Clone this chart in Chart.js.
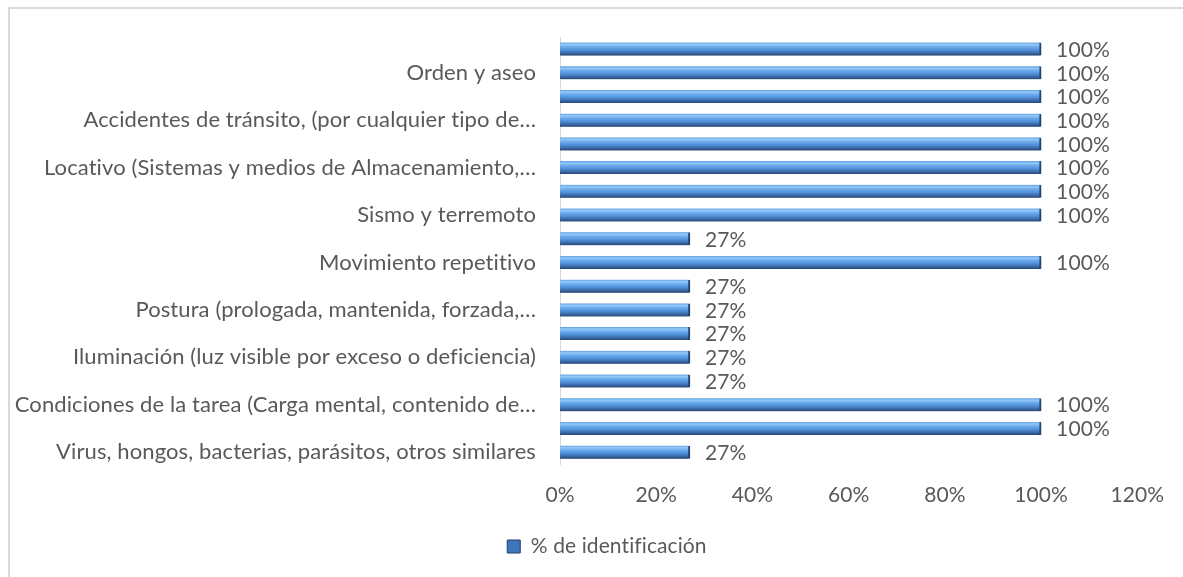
<!DOCTYPE html>
<html>
<head>
<meta charset="utf-8">
<script src="https://cdn.jsdelivr.net/npm/chart.js@4"></script>
<style>
    body { margin: 0; overflow: hidden; background: #fff; width: 1183px; height: 577px; position: relative; }
    #frame { position: absolute; left: 8px; top: 7px; width: 1300px; height: 700px; border: 2px solid #d9d9d9; }
    #riskChart { position: absolute; left: 0; top: 0; }
</style>
</head>
<body>
<div id="frame"></div>
<canvas id="riskChart" width="1183" height="577"></canvas>
<script>
// categories in the sheet's order (first one sits at the bottom)
const categories = [
    'Virus, hongos, bacterias, parásitos, otros similares',
    '',
    'Condiciones de la tarea (Carga mental, contenido de…',
    '',
    'Iluminación (luz visible por exceso o deficiencia)',
    '',
    'Postura (prologada, mantenida, forzada,…',
    '',
    'Movimiento repetitivo',
    '',
    'Sismo y terremoto',
    '',
    'Locativo (Sistemas y medios de Almacenamiento,…',
    '',
    'Accidentes de tránsito, (por cualquier tipo de…',
    '',
    'Orden y aseo',
    ''
];
const identificacion = [27, 100, 100, 27, 27, 27, 27, 27, 100, 27, 100, 100, 100, 100, 100, 100, 100, 100];
const xTicks = [0, 20, 40, 60, 80, 100, 120];
const seriesName = '% de identificación';

const textColor = '#595959';
const fontFamily = 'Lato, "Open Sans", sans-serif';

function barGradient(context) {
    const chart = context.chart;
    if (!chart.chartArea) return '#4a86d0';
    const cy = chart.scales.y.getPixelForValue(context.dataIndex);
    const h = 13;
    const g = chart.ctx.createLinearGradient(0, cy - h / 2, 0, cy + h / 2);
    g.addColorStop(0, '#5f9de2');
    g.addColorStop(0.15, '#93caf8');
    g.addColorStop(0.35, '#6aa9ec');
    g.addColorStop(0.6, '#4f8dd6');
    g.addColorStop(0.82, '#3a68a6');
    g.addColorStop(1, '#254675');
    return g;
}

const barShadow = {
    id: 'barShadow',
    beforeDraw(chart) {
        // a tiny letter spacing keeps Lato from joining "ti" into a ligature
        chart.ctx.letterSpacing = '0.1px';
    },
    beforeDatasetsDraw(chart) {
        const ctx = chart.ctx;
        ctx.save();
        ctx.shadowColor = 'rgba(0,0,0,0.25)';
        ctx.shadowBlur = 4;
        ctx.shadowOffsetX = 2;
        ctx.shadowOffsetY = 2;
    },
    afterDatasetsDraw(chart) {
        chart.ctx.restore();
    }
};

// legend sits a bit right of the canvas centre in the original
const legendShift = {
    id: 'legendShift',
    afterLayout(chart) {
        chart.legend.left = 72;
    }
};

const valueLabels = {
    id: 'valueLabels',
    afterDraw(chart) {
        const ctx = chart.ctx;
        const meta = chart.getDatasetMeta(0);
        ctx.save();
        ctx.font = '21px ' + fontFamily;
        ctx.fillStyle = textColor;
        ctx.textAlign = 'left';
        ctx.textBaseline = 'middle';
        meta.data.forEach((bar, i) => {
            ctx.fillText(identificacion[i] + '%', bar.x + 15, bar.y + 1);
        });
        ctx.restore();
    }
};

const chartConfig = {
    type: 'bar',
    data: {
        labels: categories,
        datasets: [{
            label: seriesName,
            data: identificacion,
            backgroundColor: barGradient,
            borderColor: '#2b4f84',
            borderWidth: { top: 0, right: 2, bottom: 0, left: 0 },
            borderSkipped: false,
            barThickness: 13
        }]
    },
    options: {
        indexAxis: 'y',
        responsive: false,
        animation: false,
        layout: {
            padding: { top: 37, right: 43, bottom: 10, left: 0 }
        },
        plugins: {
            legend: {
                position: 'bottom',
                labels: {
                    boxWidth: 13,
                    boxHeight: 13,
                    color: textColor,
                    padding: 10,
                    font: { family: fontFamily, size: 21 },
                    generateLabels: () => [{
                        text: seriesName,
                        fillStyle: '#3f76bb',
                        strokeStyle: '#213f69',
                        lineWidth: 1,
                        fontColor: textColor,
                        datasetIndex: 0
                    }]
                }
            },
            tooltip: { enabled: false }
        },
        scales: {
            x: {
                min: 0,
                max: 120,
                afterBuildTicks: (scale) => {
                    scale.ticks = xTicks.map(v => ({ value: v }));
                },
                afterFit: (scale) => { scale.height = 62; },
                grid: { display: false, drawTicks: false },
                border: { display: false },
                ticks: {
                    color: textColor,
                    padding: 19,
                    font: { family: fontFamily, size: 21 },
                    callback: (value) => value + '%'
                }
            },
            y: {
                reverse: true,
                afterFit: (scale) => { scale.width = 560; },
                grid: { display: false, drawTicks: false },
                border: { display: true, color: '#d9d9d9', width: 1 },
                ticks: {
                    autoSkip: false,
                    color: textColor,
                    padding: 24,
                    font: { family: fontFamily, size: 22 }
                }
            }
        }
    },
    plugins: [barShadow, legendShift, valueLabels]
};

const riskChart = new Chart(document.getElementById('riskChart'), chartConfig);
</script>
</body>
</html>
